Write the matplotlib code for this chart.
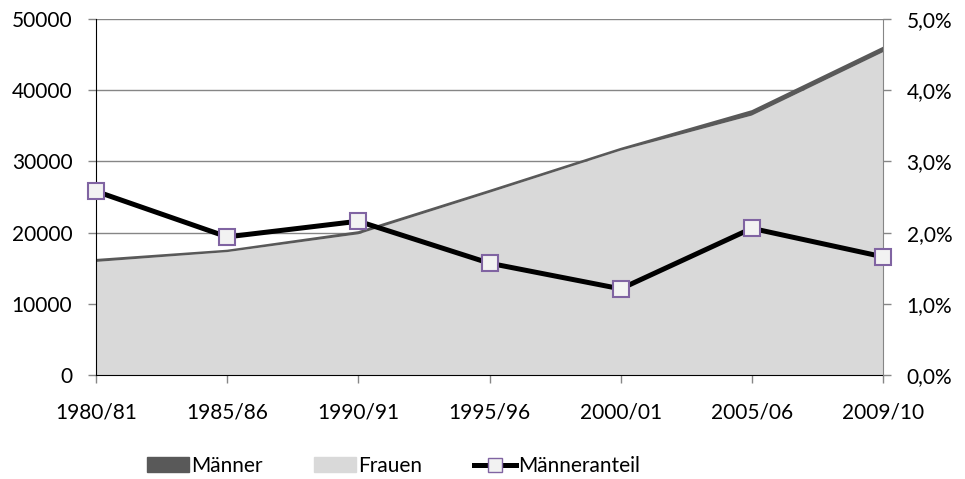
import matplotlib.pyplot as plt
import numpy as np
from matplotlib.ticker import FuncFormatter

plt.rcParams['font.family'] = ['Lato', 'DejaVu Sans']

# --- data ---
jahre = ["1980/81", "1985/86", "1990/91", "1995/96", "2000/01", "2005/06", "2009/10"]
gesamt = np.array([16300, 17600, 20200, 26000, 31900, 37200, 46100])
anteil = np.array([2.58, 1.94, 2.16, 1.57, 1.21, 2.06, 1.66])  # percent
maenner = gesamt * anteil / 100
frauen = gesamt - maenner

x = np.arange(len(jahre))

fig = plt.figure(figsize=(9.65, 4.79), dpi=100)
ax = fig.add_axes([96 / 965, 1 - 375 / 479, (883 - 96) / 965, (375 - 19) / 479])
ax2 = ax.twinx()

# --- stacked area ---
ax.stackplot(x, frauen, maenner, colors=["#d9d9d9", "#595959"], linewidth=0)
ax.set_xlim(0, len(jahre) - 1)
ax.set_ylim(0, 50000)
ax.set_yticks(np.arange(0, 50001, 10000))
ax.grid(axis="y", color="#868686", linewidth=1)
ax.set_axisbelow(True)
ax.set_xticks(x)
ax.set_xticklabels(jahre)
ax.tick_params(axis="both", labelsize=15, color="#868686", length=6, width=1, pad=11)
ax.tick_params(axis="x", pad=14)

# --- share line on right axis ---
ax2.plot(x, anteil, color="black", linewidth=3.6, marker="s", markersize=12,
         markerfacecolor="#f2f2f2", markeredgecolor="#8064a2", markeredgewidth=1.5,
         clip_on=False, zorder=5)
ax2.set_ylim(0, 5)
ax2.set_yticks(np.arange(0, 5.01, 1))
ax2.yaxis.set_major_formatter(FuncFormatter(lambda v, p: f"{v:.1f}%".replace(".", ",")))
ax2.tick_params(axis="y", labelsize=15, color="#868686", length=6, width=1, pad=11)

for a in (ax, ax2):
    a.spines["top"].set_visible(False)
ax.spines["left"].set_color("black")
ax.spines["bottom"].set_color("black")
ax.spines["right"].set_visible(False)
ax2.spines["left"].set_visible(False)
ax2.spines["bottom"].set_visible(False)
ax2.spines["right"].set_color("#868686")

# --- legend ---
h1 = plt.Rectangle((0, 0), 1, 1, color="#595959")
h2 = plt.Rectangle((0, 0), 1, 1, color="#d9d9d9")
h3, = ax2.plot([], [], color="black", linewidth=3.6, marker="s", markersize=10,
               markerfacecolor="#f2f2f2", markeredgecolor="#8064a2")
fig.legend([h1, h2, h3], ["Männer", "Frauen", "Männeranteil"], ncol=3,
           loc="center left", bbox_to_anchor=(147 / 965, 1 - 466 / 479), frameon=False,
           fontsize=15, handlelength=2.0, handletextpad=0.1, columnspacing=2.5,
           handleheight=0.75, borderpad=0, borderaxespad=0)

fig.savefig("out.png", dpi=100)
